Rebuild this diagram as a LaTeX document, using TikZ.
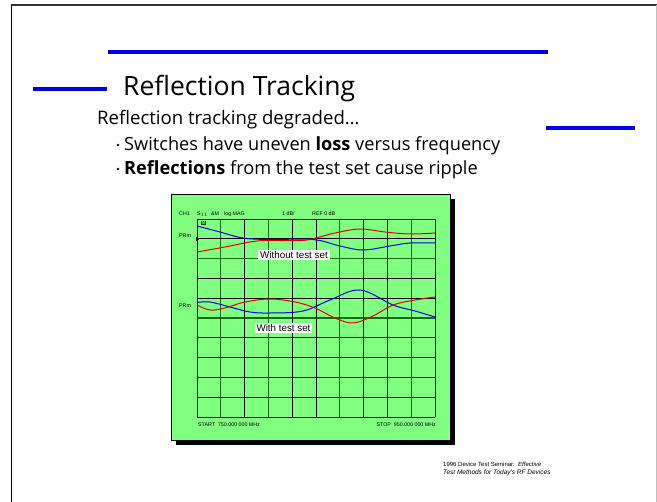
\documentclass[tikz,border=0pt]{standalone}
\usepackage{fontspec}
\setmainfont{Open Sans}
\newfontfamily\chartfont{Liberation Sans}
\begin{document}
\begin{tikzpicture}[x=1pt,y=-1pt,
  accent/.style={draw=blue!90!black,line width=3.5pt},
  bodytext/.style={anchor=base west,inner sep=0pt,font=\fontsize{18.2}{20}\selectfont},
  chartlbl/.style={inner sep=0pt,font=\chartfont\fontsize{5.3}{6}\selectfont},
  gridblack/.style={draw=black,line width=0.8pt},
  gridgreen/.style={draw=black!55!green!60!black,line width=1.3pt,opacity=0.8},
  tracered/.style={draw=red!90!black,line width=1pt},
  traceblue/.style={draw=blue!90!black,line width=1pt},
  dot/.style={fill=black,circle,inner sep=0pt,minimum size=2.6pt},
  legendbox/.style={fill=white,inner sep=1.8pt,font=\chartfont\fontsize{9.8}{11}\selectfont}]
\useasboundingbox (0,0) rectangle (657,502);
\fill[white] (0,0) rectangle (657,502);
% slide frame
\draw[black!80,line width=1.5pt] (11,5) -- (657,5);
\draw[black,line width=1pt] (11,5) -- (11,502);
\draw[black!25,line width=1pt] (656,5) -- (656,502);
% accent bars
\coordinate (topA) at (108,52); \coordinate (topB) at (548,52);
\draw[accent] (topA) -- (topB);
\coordinate (leftA) at (33,89); \coordinate (leftB) at (107,89);
\draw[accent] (leftA) -- (leftB);
\coordinate (rightA) at (546,128); \coordinate (rightB) at (635,128);
\draw[accent] (rightA) -- (rightB);
% title and bullets
\node[anchor=base west,inner sep=0pt,font=\fontsize{26.5}{30}\selectfont] (title) at (123,96) {Reflection Tracking};
\node[anchor=base west,inner sep=0pt,font=\fontsize{18.6}{22}\selectfont] (intro) at (97,124.5) {Reflection tracking degraded\dots};
\node[dot] (d1) at (118,145) {};
\node[bodytext] (b1) at (124,150.5) {Switches have uneven \textbf{loss} versus frequency};
\node[dot] (d2) at (118,169) {};
\node[bodytext] (b2) at (124,174.5) {\textbf{Reflections} from the test set cause ripple};
% analyzer screen
\fill[black] (176,199) rectangle (455,445);
\draw[black,fill={rgb,255:red,128;green,255;blue,128},line width=0.6pt] (171,194) rectangle (450,440);
% grid: 10 x 10 divisions
\foreach \i in {0,...,10} {
  \pgfmathsetmacro{\xx}{197+23.8*\i}
  \ifnum\i=1 \draw[gridgreen] (\xx,219) -- (\xx,417);
  \else\ifnum\i=3 \draw[gridgreen] (\xx,219) -- (\xx,417);
  \else\ifnum\i=6 \draw[gridgreen] (\xx,219) -- (\xx,417);
  \else\ifnum\i=9 \draw[gridgreen] (\xx,219) -- (\xx,417);
  \else \draw[gridblack] (\xx,219) -- (\xx,417);
  \fi\fi\fi\fi
}
\foreach \j in {0,...,10} {
  \pgfmathsetmacro{\yy}{219+19.8*\j}
  \ifnum\j=2 \draw[gridgreen] (197,\yy) -- (435,\yy);
  \else\ifnum\j=5 \draw[gridgreen] (197,\yy) -- (435,\yy);
  \else \draw[gridblack] (197,\yy) -- (435,\yy);
  \fi\fi
}
% header and footer annotations
\node[chartlbl,anchor=west] (ch) at (179,214) {CH1};
\node[chartlbl,anchor=west] (sp) at (197,214) {S$_{11}$};
\node[chartlbl,anchor=west] (am) at (211,214) {\&M};
\node[chartlbl,anchor=west] (lm) at (224,214) {log MAG};
\node[chartlbl,anchor=west] (db) at (282,214) {1 dB/};
\node[chartlbl,anchor=west] (ref) at (312,214) {REF 0 dB};
\node[chartlbl,anchor=west] (pr1) at (179,236) {PRm};
\node[chartlbl,anchor=west] (pr2) at (179,306) {PRm};
\node[chartlbl,anchor=west] (start) at (198,425) {START\ \ 750.000 000 MHz};
\node[chartlbl,anchor=east] (stop) at (436,425) {STOP\ \ 950.000 000 MHz};
% markers
\node[fill=black!85,inner sep=0.6pt,text=green!50,font=\chartfont\bfseries\fontsize{4.5}{5}\selectfont] (mk) at (203.5,223) {M};
\fill[black] (196,237) -- (199.5,239) -- (196,241) -- cycle;
% traces without test set
\draw[traceblue] plot[smooth,tension=0.6] coordinates {(197,226) (220,232) (243,238) (270,239.5) (313,239.5) (340,246) (363,250) (390,246) (410,243) (435,243)};
\draw[tracered] plot[smooth,tension=0.6] coordinates {(197,252) (225,247) (257,241) (285,240.5) (307,240) (335,233) (360,229) (385,232) (410,234) (435,233)};
% traces with test set
\draw[traceblue] plot[smooth,tension=0.6] coordinates {(197,302.5) (210,302) (230,307) (250,312) (270,313) (303,311) (330,300) (360,290) (393,305) (415,311) (435,317)};
\draw[tracered] plot[smooth,tension=0.6] coordinates {(197,305) (210,310) (225,308) (245,302) (270,299) (295,302) (315,308) (335,318) (353,323) (373,316) (393,305) (415,300) (435,297)};
% trace legends
\node[legendbox] (wo) at (294,255) {Without test set};
\node[legendbox] (wi) at (283.5,328) {With test set};
% footer
\node[anchor=base west,inner sep=0pt,font=\chartfont\fontsize{6}{7}\selectfont] (f1) at (443,467) {1996 Device Test Seminar:\ \ \textit{Effective}};
\node[anchor=base west,inner sep=0pt,font=\chartfont\itshape\fontsize{6.5}{7}\selectfont] (f2) at (443,475) {Test Methods for Today's RF Devices};
\end{tikzpicture}
\end{document}
